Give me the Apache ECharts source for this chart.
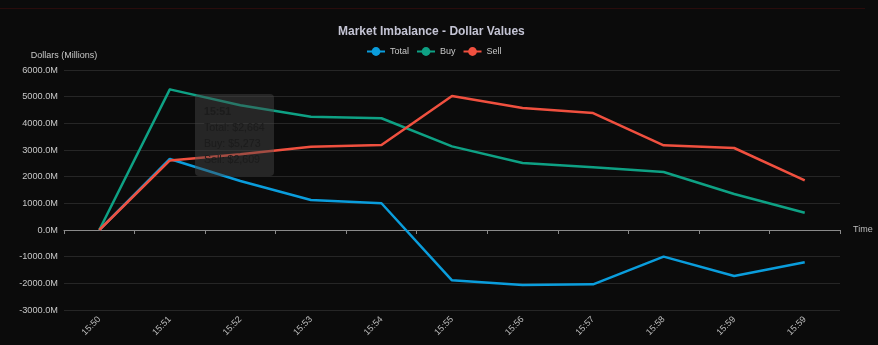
<!DOCTYPE html>
<html>
<head>
<meta charset="utf-8">
<script src="https://cdn.jsdelivr.net/npm/echarts@6/dist/echarts.min.js"></script>
<style>
html,body{margin:0;padding:0;background:#0b0b0b;overflow:hidden;}
#topline{position:absolute;left:0;top:8px;width:865px;height:0;border-top:1px solid #2a0c0c;}
#chart{position:absolute;left:0;top:0;width:878px;height:345px;}
</style>
</head>
<body>
<div id="topline"></div>
<div id="chart"></div>
<script>
const categories = ['15:50','15:51','15:52','15:53','15:54','15:55','15:56','15:57','15:58','15:59','15:59'];
const totalValues = [0, 2664, 1835, 1125, 1003, -1888, -2060, -2037, -1000, -1725, -1212];
const buyValues   = [0, 5273, 4680, 4250, 4190, 3137, 2512, 2350, 2175, 1350, 650];
const sellValues  = [0, 2609, 2845, 3125, 3187, 5025, 4572, 4387, 3175, 3075, 1862];
const yTicks = {min: -3000, max: 6000, interval: 1000};

const FONT = 'Liberation Sans, Arial, Helvetica, sans-serif';
const chart = echarts.init(document.getElementById('chart'), null, {renderer: 'canvas'});
const fmt = v => Math.round(v).toLocaleString('en-US');

chart.setOption({
  backgroundColor: 'transparent',
  animation: false,
  textStyle: {fontFamily: FONT},
  title: {
    text: 'Market Imbalance - Dollar Values',
    left: 333, top: 21,
    textStyle: {color: '#c4c4d4', fontSize: 12, fontWeight: 'bold', fontFamily: FONT}
  },
  legend: {
    data: ['Total', 'Buy', 'Sell'],
    left: 361, top: 42,
    itemWidth: 18, itemHeight: 11, itemGap: 7,
    textStyle: {color: '#c8c8c8', fontSize: 9, fontFamily: FONT}
  },
  tooltip: {
    trigger: 'axis',
    triggerOn: 'none',
    alwaysShowContent: true,
    transitionDuration: 0,
    showDelay: 0,
    axisPointer: {type: 'none'},
    backgroundColor: 'rgba(72,72,72,0.45)',
    borderWidth: 0,
    padding: [9, 9],
    extraCssText: 'box-shadow:none;border-radius:4px;line-height:16px;',
    textStyle: {color: '#1c1c1c', fontSize: 10.6, fontFamily: FONT},
    position: function () { return [195, 94]; },
    formatter: function (params) {
      let s = '<b>' + params[0].name + '</b>';
      params.forEach(p => { s += '<br/>' + p.seriesName + ': $' + fmt(p.value); });
      return s;
    }
  },
  grid: {left: 64, right: 38, top: 70, bottom: 35, containLabel: false},
  xAxis: [{
    type: 'category',
    data: categories,
    position: 'bottom',
    boundaryGap: true,
    axisLine: {show: false, onZero: false},
    axisTick: {show: false},
    axisLabel: {rotate: 45, color: '#bdbdbd', fontSize: 9, margin: 8, interval: 0}
  }, {
    type: 'category',
    data: categories,
    position: 'bottom',
    boundaryGap: true,
    name: 'Time',
    nameGap: 13,
    nameTextStyle: {color: '#bdbdbd', fontSize: 9},
    axisLine: {show: true, onZero: true, lineStyle: {color: '#8a8a8a', width: 1}},
    axisTick: {show: true, length: 4, lineStyle: {color: '#8a8a8a'}},
    axisLabel: {show: false},
    splitLine: {show: false}
  }],
  yAxis: {
    type: 'value',
    min: yTicks.min, max: yTicks.max, interval: yTicks.interval,
    name: 'Dollars (Millions)',
    nameGap: 13,
    nameTextStyle: {color: '#c8c8c8', fontSize: 9, padding: [0, 0, -3, 0]},
    axisLine: {show: false},
    axisTick: {show: false},
    axisLabel: {color: '#c8c8c8', fontSize: 9.2, margin: 6, formatter: v => v.toFixed(1) + 'M'},
    splitLine: {show: true, lineStyle: {color: '#262626', width: 1}}
  },
  series: [
    {name: 'Total', type: 'line', xAxisIndex: 0, data: totalValues, showSymbol: false, symbol: 'circle', symbolSize: 0,
     emphasis: {disabled: true}, itemStyle: {color: '#0a9ddc'}, lineStyle: {color: '#0a9ddc', width: 2.5}},
    {name: 'Buy', type: 'line', xAxisIndex: 0, data: buyValues, showSymbol: false, symbol: 'circle', symbolSize: 0,
     emphasis: {disabled: true}, itemStyle: {color: '#0ea184'}, lineStyle: {color: '#0ea184', width: 2.5}},
    {name: 'Sell', type: 'line', xAxisIndex: 0, data: sellValues, showSymbol: false, symbol: 'circle', symbolSize: 0,
     emphasis: {disabled: true}, itemStyle: {color: '#f0503f'}, lineStyle: {color: '#f0503f', width: 2.5}}
  ]
});
chart.dispatchAction({type: 'showTip', seriesIndex: 0, dataIndex: 1});
</script>
</body>
</html>
